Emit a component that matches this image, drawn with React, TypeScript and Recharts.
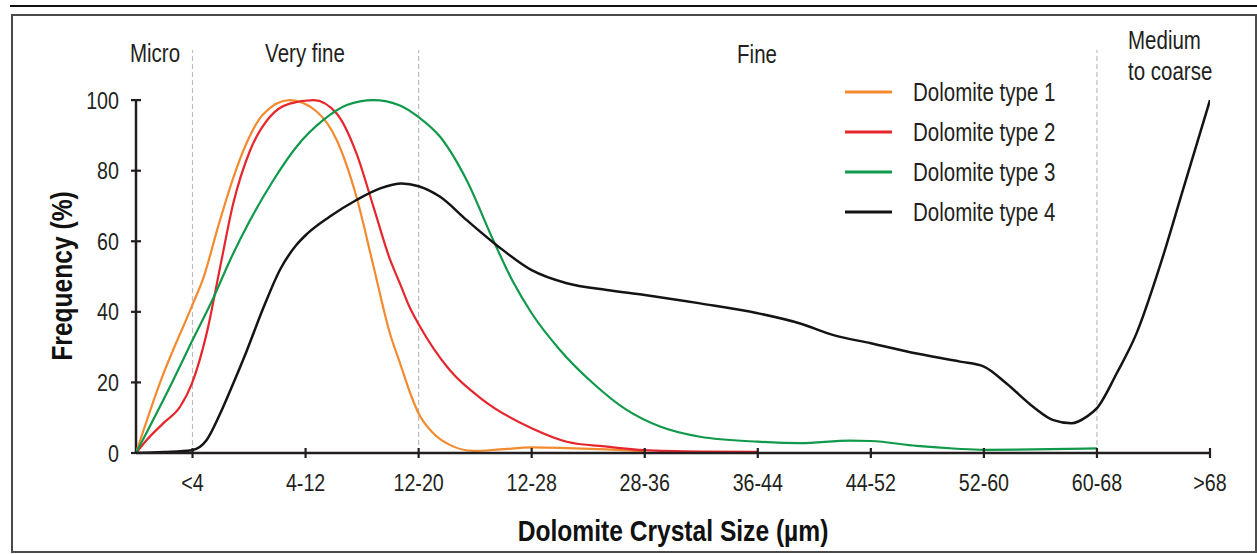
import React from 'react';
import { LineChart, Line, XAxis, YAxis, ReferenceLine, Legend, Label } from 'recharts';

// Size-class categories on the x axis (positions 1,3,...,19; the origin is 0)
const categories = ['<4', '4-12', '12-20', '12-28', '28-36', '36-44', '44-52', '52-60', '60-68', '>68'];
const xTicks = [1, 3, 5, 7, 9, 11, 13, 15, 17, 19];
const yTicks = [0, 20, 40, 60, 80, 100];

const seriesNames = ['Dolomite type 1', 'Dolomite type 2', 'Dolomite type 3', 'Dolomite type 4'];
const seriesColors = ['#F48A2E', '#E5262C', '#10994A', '#141414'];

// Class boundary lines (x positions) and size-class names
const classBoundaries = [1, 5, 17];
const sizeClassNames = ['Micro', 'Very fine', 'Fine', 'Medium', 'to coarse'];

// [x position, frequency %]
const type1Points: [number, number][] = [
  [0, 0], [0.45, 21], [0.985, 41.5], [1.2, 50], [1.45, 64], [1.7, 77], [1.96, 88], [2.25, 96],
  [2.72, 100], [3.2, 96.7], [3.55, 88.7], [3.9, 72.6], [4.2, 53], [4.49, 34], [4.67, 25.5],
  [4.85, 17], [5.0, 11.2], [5.26, 5.6], [5.55, 2.3], [5.97, 0.6], [6.44, 1.0], [7.0, 1.6],
  [7.62, 1.4], [8.33, 1.0], [9.0, 0.5],
];
const type2Points: [number, number][] = [
  [0, 0], [0.19, 3.7], [0.48, 8.4], [0.78, 13.1], [0.985, 19.5], [1.25, 33.9], [1.49, 52.8],
  [1.72, 70.7], [2.02, 85.8], [2.37, 95.3], [2.72, 99], [3.14, 100], [3.55, 96.2], [3.9, 84.9],
  [4.2, 69.8], [4.49, 55], [4.67, 48], [4.85, 41], [5.0, 36.5], [5.55, 23.5], [6.14, 15],
  [7.0, 7], [7.62, 3.2], [8.33, 1.8], [9.0, 0.8], [10, 0.4], [11, 0.3],
];
const type3Points: [number, number][] = [
  [0, 0], [0.66, 20.7], [0.985, 31.5], [1.37, 44], [1.66, 54.5], [2.02, 66], [2.43, 77.3],
  [2.84, 86.8], [3.31, 94.3], [3.73, 98.6], [4.2, 100], [4.67, 98.5], [4.99, 95.3], [5.38, 89.6],
  [5.85, 77.3], [6.32, 60.3], [6.67, 48.5], [7.0, 39.6], [7.5, 29.2], [8.09, 19.7], [8.68, 12.2],
  [9.27, 7.5], [9.98, 4.6], [11, 3.2], [11.75, 2.8], [12.63, 3.5], [13, 3.4], [13.81, 2],
  [14.52, 1.2], [15, 0.9], [15.87, 1.0], [17, 1.3],
];
const type4Points: [number, number][] = [
  [0, 0], [0.5, 0.3], [0.985, 0.8], [1.25, 3.7], [1.49, 11.2], [1.72, 19.7], [1.96, 29],
  [2.25, 41], [2.55, 52], [2.84, 59], [3.02, 62], [3.43, 67], [3.9, 71.7], [4.32, 75],
  [4.7, 76.4], [5.0, 75.6], [5.38, 72.6], [5.85, 66], [6.38, 58.9], [7.0, 51.8], [7.62, 48.1],
  [8.33, 46.2], [9.0, 44.8], [9.98, 42.4], [11, 39.6], [11.75, 36.7], [12.34, 33.4], [13, 31.1],
  [13.81, 28.2], [14.58, 25.9], [15, 24.5], [15.4, 19.7], [15.87, 13.1], [16.23, 9.3],
  [16.55, 8.4], [16.82, 10.3], [17, 12.7], [17.35, 22.6], [17.7, 33.9], [18.11, 52.8],
  [18.52, 74.5], [19, 100],
];

const allSeries = [type1Points, type2Points, type3Points, type4Points];

const FONT = "'Liberation Sans', Arial, sans-serif";
const INK = '#231F20';
const NARROW = 0.82;

const NarrowText = (p: any) => {
  const { x, y, anchor = 'middle', size = 24, weight = 'normal', rotate = 0, fill = INK, dy, children } = p;
  return (
    <text
      transform={`translate(${x} ${y}) rotate(${rotate}) scale(${NARROW} 1)`}
      x={0}
      y={0}
      dy={dy}
      textAnchor={anchor}
      fontFamily={FONT}
      fontSize={size}
      fontWeight={weight}
      fill={fill}
    >
      {children}
    </text>
  );
};

const XTick = (props: any) => {
  const { x, y, payload } = props;
  const axisY = y - 21;
  const idx = Math.round((payload.value - 1) / 2);
  return (
    <g>
      <line x1={x} x2={x} y1={axisY - 5} y2={axisY + 5} stroke={INK} strokeWidth={2.2} />
      <NarrowText x={x} y={y} dy="0.71em">{categories[idx]}</NarrowText>
    </g>
  );
};

const YTick = (props: any) => {
  const { x, y, payload } = props;
  const axisX = x + 17;
  return (
    <g>
      <line x1={axisX - 5} x2={axisX + 5} y1={y} y2={y} stroke={INK} strokeWidth={2.2} />
      <NarrowText x={x} y={y} dy="0.355em" anchor="end">{payload.value}</NarrowText>
    </g>
  );
};

const XTitle = (props: any) => {
  const { viewBox } = props;
  const cx = viewBox.x + viewBox.width / 2;
  return (
    <NarrowText x={cx} y={viewBox.y + 88} size={30} weight="bold" fill="#111">
      Dolomite Crystal Size (µm)
    </NarrowText>
  );
};

const YTitle = (props: any) => {
  const { viewBox } = props;
  const cy = viewBox.y + viewBox.height - 177;
  return (
    <NarrowText x={viewBox.x + 72} y={cy} size={30} weight="bold" fill="#111" rotate={-90}>
      Frequency (%)
    </NarrowText>
  );
};

const LegendContent = (props: any) => {
  const { payload } = props;
  return (
    <div style={{ fontFamily: FONT, fontSize: 25, color: INK }}>
      {(payload || []).map((entry: any, i: number) => (
        <div key={i} style={{ display: 'flex', alignItems: 'center', height: 40, whiteSpace: 'nowrap' }}>
          <svg width={47} height={6} style={{ marginRight: 21, flex: 'none' }}>
            <line x1={0} x2={47} y1={3} y2={3} stroke={entry.color} strokeWidth={3} />
          </svg>
          <span
            style={{
              lineHeight: '25px',
              display: 'inline-block',
              transform: `scaleX(${NARROW})`,
              transformOrigin: 'left center',
            }}
          >
            {entry.value}
          </span>
        </div>
      ))}
    </div>
  );
};

export default function App() {
  return (
    <div style={{ position: 'fixed', left: 0, top: 0, width: 1257, height: 554, background: '#fff', overflow: 'hidden' }}>
      <div style={{ position: 'absolute', left: 10, top: 5, right: 0, height: 2, background: '#111' }} />
      <div
        style={{
          position: 'absolute', left: 11, top: 14, width: 1246, height: 539,
          border: '2px solid #4a4a4a', boxSizing: 'border-box',
        }}
      />
      <div style={{ position: 'absolute', left: 0, top: 0 }}>
        <LineChart width={1257} height={554} margin={{ top: 50, right: 47, bottom: 0, left: 0 }}>
          <XAxis
            dataKey="x"
            type="number"
            domain={[0, 19]}
            ticks={xTicks}
            height={101}
            tickSize={6}
            tickMargin={15}
            tickLine={false}
            tick={<XTick />}
            axisLine={{ stroke: INK, strokeWidth: 2.5 }}
            allowDataOverflow
            allowDuplicatedCategory={false}
          >
            <Label content={<XTitle />} />
          </XAxis>
          <YAxis
            type="number"
            domain={[0, 114.2]}
            ticks={yTicks}
            width={136}
            tickSize={5}
            tickMargin={12}
            tickLine={false}
            tick={<YTick />}
            axisLine={false}
            allowDataOverflow
          >
            <Label content={<YTitle />} />
          </YAxis>
          {classBoundaries.map((b) => (
            <ReferenceLine key={b} x={b} stroke="#BDBDBD" strokeWidth={1.2} strokeDasharray="5 3" />
          ))}
          <ReferenceLine
            segment={[{ x: 0, y: 0 }, { x: 0, y: 100 }]}
            stroke={INK}
            strokeWidth={2.5}
          />
          {allSeries.map((pts, i) => (
            <Line
              key={seriesNames[i]}
              name={seriesNames[i]}
              data={pts.map(([x, y]) => ({ x, y }))}
              dataKey="y"
              type="monotone"
              stroke={seriesColors[i]}
              strokeWidth={i === 3 ? 2.5 : 2.2}
              dot={false}
              activeDot={false}
              isAnimationActive={false}
            />
          ))}
          <Legend
            layout="vertical"
            align="center"
            verticalAlign="middle"
            content={<LegendContent />}
            wrapperStyle={{ left: 845, top: 72, width: 260 }}
          />
        </LineChart>
      </div>
      <svg width={1257} height={554} style={{ position: 'absolute', left: 0, top: 0, pointerEvents: 'none' }}>
        <NarrowText x={155} y={61.5} size={25}>{sizeClassNames[0]}</NarrowText>
        <NarrowText x={305} y={61.5} size={25}>{sizeClassNames[1]}</NarrowText>
        <NarrowText x={757} y={63} size={25}>{sizeClassNames[2]}</NarrowText>
        <NarrowText x={1128} y={49} size={25} anchor="start">{sizeClassNames[3]}</NarrowText>
        <NarrowText x={1128} y={80} size={25} anchor="start">{sizeClassNames[4]}</NarrowText>
      </svg>
    </div>
  );
}
